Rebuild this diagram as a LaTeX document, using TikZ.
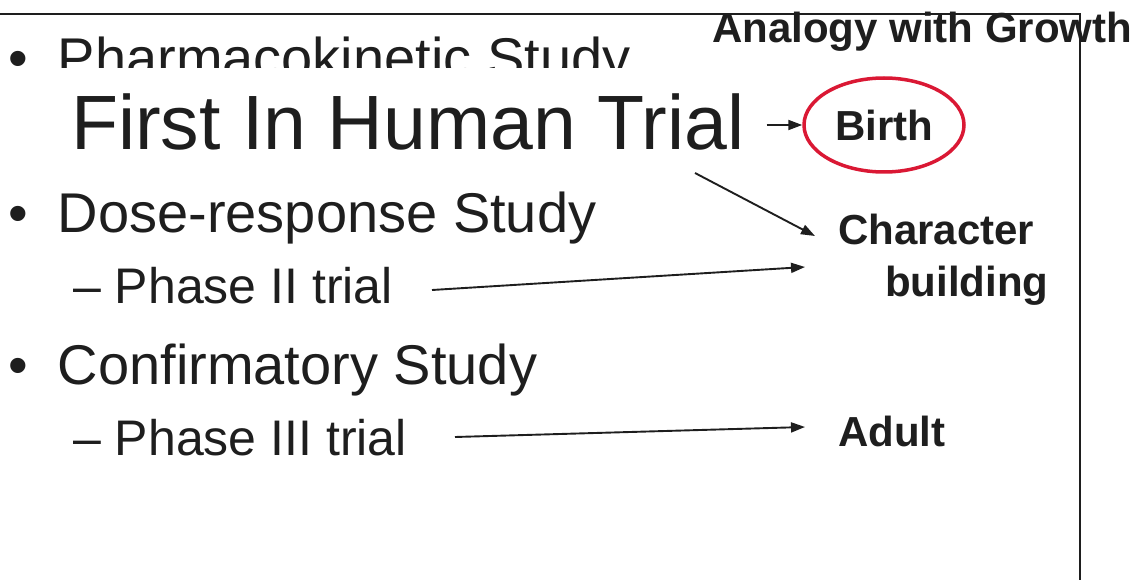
\documentclass[tikz,border=0pt]{standalone}
\usepackage{fontspec}
\setmainfont{Liberation Sans}
\usetikzlibrary{arrows.meta,shapes.geometric}
\definecolor{ink}{RGB}{30,30,30}
\definecolor{ringred}{RGB}{218,24,52}
\tikzset{
  body/.style={font=\fontsize{56}{60}\selectfont},
  sub/.style={font=\fontsize{50}{54}\selectfont},
  tag/.style={font=\bfseries\fontsize{42}{48}\selectfont},
  link/.style={draw=ink,line width=1.9pt,-{Triangle[length=14pt,width=10pt]}},
}

\begin{document}
\begin{tikzpicture}[x=1pt,y=1pt,yscale=-1,xscale=1,every node/.style={text=ink,inner sep=0pt,anchor=base west}]
\useasboundingbox (0,0) rectangle (1138,580);
\draw [ink,line width=1.5pt] (0,14) -- (1080,14) -- (1080,580) ;
%Text
\begin{scope}
\clip (0,0) rectangle (700,68);
\draw (8,78) node (pk) [body] {\textbullet\hspace{30pt}Pharmacokinetic Study};
\end{scope}
\draw (712,43) node (growth) [tag] {Analogy with Growth};
\draw (71,150) node (fih) [font=\fontsize{77}{80}\selectfont] {First In Human Trial};
\draw (884,125) node (birth) [tag,ellipse,anchor=center,draw=ringred,line width=3.5pt,minimum width=160pt,minimum height=94pt] {Birth};
\draw (8,233) node (dose) [body] {\textbullet\hspace{30pt}Dose-response Study};
\draw (838,214) node (char) [tag,anchor=north west,align=left] {Character\\[4pt]\hspace*{47pt}building};
\draw (73,303) node (ph2) [sub] {-- Phase II trial};
\draw (8,384) node (conf) [body] {\textbullet\hspace{30pt}Confirmatory Study};
\draw (73,455) node (ph3) [sub] {-- Phase III trial};
\draw (838,446) node (adult) [tag] {Adult};
%Arrows
\coordinate (t2) at (695,173);
\coordinate (h2) at (815,236);
\coordinate (t3) at (432,290);
\coordinate (h3) at (805,267);
\coordinate (t4) at (455,437);
\coordinate (h4) at (805,427);
\draw [link] ([xshift=22pt]fih.east |- birth.west) -- (birth.west) ;
\draw [link] (t2) -- (h2) ;
\draw [link] (t3) -- (h3) ;
\draw [link] (t4) -- (h4) ;
\end{tikzpicture}
\end{document}
